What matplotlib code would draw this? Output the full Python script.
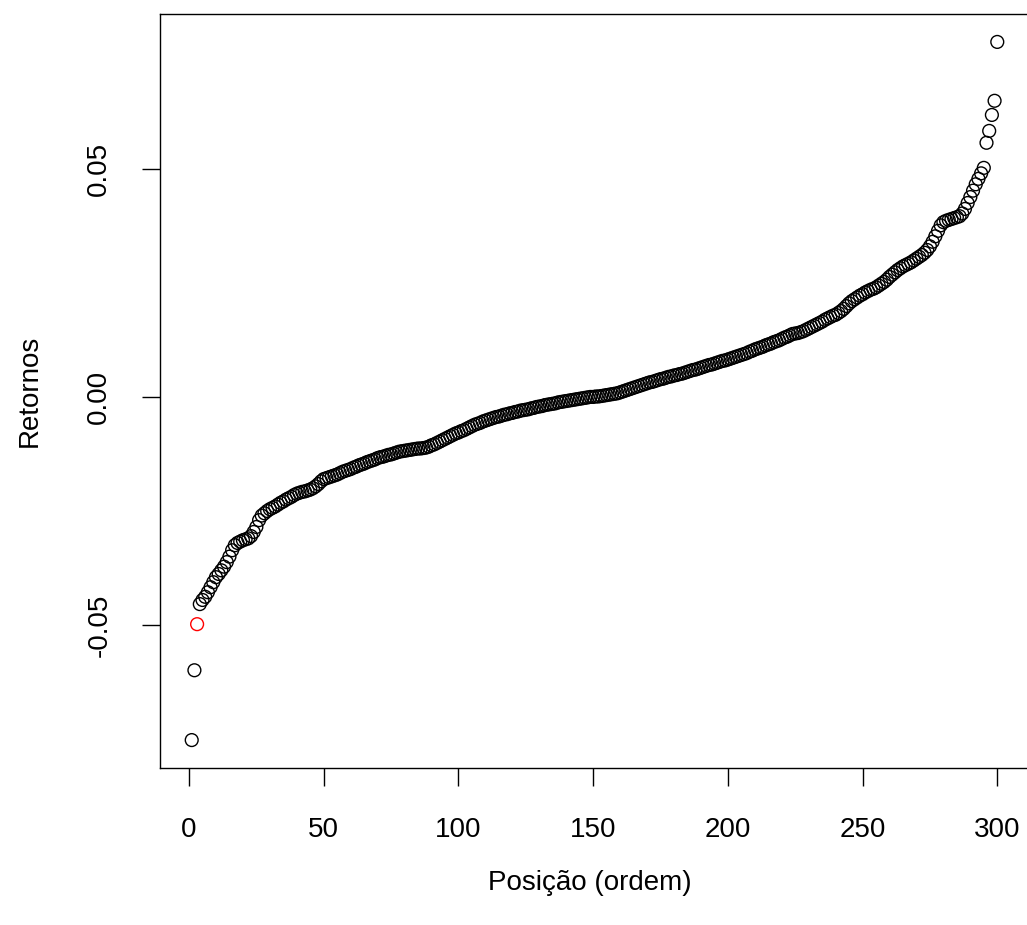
import matplotlib
matplotlib.use("Agg")
import matplotlib.pyplot as plt
import numpy as np

plt.rcParams['font.family'] = ['Liberation Sans', 'DejaVu Sans']

# Sorted returns (positions 1..300)
retornos = [
    -0.0752, -0.0599, -0.0498, -0.0454, -0.0445, -0.0438, -0.0428, -0.0417, -0.0406, -0.0395,
    -0.0388, -0.0380, -0.0372, -0.0362, -0.0350, -0.0336, -0.0325, -0.0320, -0.0317, -0.0314,
    -0.0312, -0.0310, -0.0305, -0.0296, -0.0285, -0.0270, -0.0260, -0.0255, -0.0250, -0.0246,
    -0.0243, -0.0240, -0.0236, -0.0232, -0.0229, -0.0225, -0.0222, -0.0219, -0.0215, -0.0212,
    -0.0210, -0.0208, -0.0207, -0.0205, -0.0203, -0.0200, -0.0196, -0.0191, -0.0185, -0.0180,
    -0.0178, -0.0176, -0.0174, -0.0172, -0.0170, -0.0167, -0.0164, -0.0162, -0.0160, -0.0158,
    -0.0155, -0.0153, -0.0150, -0.0148, -0.0146, -0.0143, -0.0141, -0.0139, -0.0137, -0.0134,
    -0.0132, -0.0131, -0.0129, -0.0127, -0.0126, -0.0124, -0.0122, -0.0120, -0.0119, -0.0118,
    -0.0117, -0.0116, -0.0115, -0.0114, -0.0113, -0.0113, -0.0112, -0.0111, -0.0109, -0.0106,
    -0.0104, -0.0101, -0.0098, -0.0095, -0.0092, -0.0089, -0.0086, -0.0083, -0.0080, -0.0078,
    -0.0075, -0.0073, -0.0070, -0.0067, -0.0064, -0.0061, -0.0059, -0.0057, -0.0054, -0.0052,
    -0.0050, -0.0048, -0.0046, -0.0044, -0.0043, -0.0041, -0.0039, -0.0038, -0.0036, -0.0035,
    -0.0033, -0.0032, -0.0030, -0.0029, -0.0028, -0.0027, -0.0025, -0.0024, -0.0022, -0.0021,
    -0.0020, -0.0018, -0.0017, -0.0016, -0.0015, -0.0014, -0.0012, -0.0011, -0.0010, -0.0009,
    -0.0008, -0.0007, -0.0006, -0.0005, -0.0004, -0.0003, -0.0002, -0.0001, 0.0000, 0.0000,
    0.0001, 0.0001, 0.0002, 0.0003, 0.0004, 0.0005, 0.0006, 0.0007, 0.0008, 0.0010,
    0.0012, 0.0014, 0.0016, 0.0018, 0.0020, 0.0022, 0.0024, 0.0026, 0.0028, 0.0030,
    0.0032, 0.0033, 0.0035, 0.0037, 0.0039, 0.0040, 0.0042, 0.0044, 0.0045, 0.0047,
    0.0048, 0.0050, 0.0051, 0.0053, 0.0055, 0.0057, 0.0059, 0.0060, 0.0062, 0.0064,
    0.0066, 0.0068, 0.0070, 0.0071, 0.0073, 0.0075, 0.0077, 0.0079, 0.0080, 0.0082,
    0.0084, 0.0086, 0.0088, 0.0090, 0.0092, 0.0094, 0.0096, 0.0099, 0.0101, 0.0104,
    0.0106, 0.0108, 0.0110, 0.0113, 0.0115, 0.0117, 0.0120, 0.0122, 0.0124, 0.0127,
    0.0130, 0.0132, 0.0135, 0.0138, 0.0139, 0.0140, 0.0142, 0.0144, 0.0147, 0.0150,
    0.0153, 0.0156, 0.0159, 0.0162, 0.0165, 0.0169, 0.0172, 0.0175, 0.0178, 0.0180,
    0.0184, 0.0188, 0.0193, 0.0199, 0.0205, 0.0210, 0.0214, 0.0218, 0.0222, 0.0225,
    0.0229, 0.0232, 0.0235, 0.0237, 0.0240, 0.0244, 0.0248, 0.0252, 0.0257, 0.0263,
    0.0268, 0.0273, 0.0278, 0.0282, 0.0286, 0.0289, 0.0292, 0.0295, 0.0299, 0.0303,
    0.0307, 0.0311, 0.0316, 0.0322, 0.0330, 0.0340, 0.0352, 0.0364, 0.0376, 0.0383,
    0.0386, 0.0388, 0.0390, 0.0392, 0.0394, 0.0396, 0.0402, 0.0412, 0.0425, 0.0438,
    0.0452, 0.0466, 0.0478, 0.0490, 0.0502, 0.0557, 0.0583, 0.0618, 0.0649, 0.0778,
]
posicao = list(range(1, len(retornos) + 1))
destaque = 3  # highlighted (red) position

x_ticks = [0, 50, 100, 150, 200, 250, 300]
x_tick_labels = ["0", "50", "100", "150", "200", "250", "300"]
y_ticks = [-0.05, 0.00, 0.05]
y_tick_labels = ["-0.05", "0.00", "0.05"]

W, H = 1027, 925
fig = plt.figure(figsize=(W / 100, H / 100), dpi=100)
# plot region extends slightly past the right edge of the image (as in the reference)
ax = fig.add_axes([159.5 / W, 1 - 768 / H, (1029.5 - 159.5) / W, (768 - 14) / H])

cores = ['red' if p == destaque else 'black' for p in posicao]
ax.scatter(posicao, retornos, s=85, facecolors='none', edgecolors=cores,
           linewidths=1.0, clip_on=False)

# R-style 4% axis extension
xmin, xmax = min(posicao), max(posicao)
ymin, ymax = min(retornos), max(retornos)
dx = (xmax - xmin) * 0.04
dy = (ymax - ymin) * 0.04
ax.set_xlim(xmin - dx, xmax + dx)
ax.set_ylim(ymin - dy, ymax + dy)

ax.set_xticks(x_ticks)
ax.set_xticklabels(x_tick_labels)
ax.set_yticks(y_ticks)
ax.set_yticklabels(y_tick_labels, rotation=90, va='center')

ax.tick_params(axis='both', direction='out', length=13, width=1, labelsize=20, colors='black')
ax.tick_params(axis='x', pad=22)
ax.tick_params(axis='y', pad=21)
for s in ax.spines.values():
    s.set_linewidth(1)
    s.set_color('black')

fig.text(590 / W, 1 - 883 / H, "Posição (ordem)", ha='center', va='center', fontsize=20)
fig.text(30 / W, 1 - 391 / H, "Retornos", ha='center', va='center', fontsize=20, rotation=90)

fig.savefig("out.png", dpi=100, facecolor='white')
